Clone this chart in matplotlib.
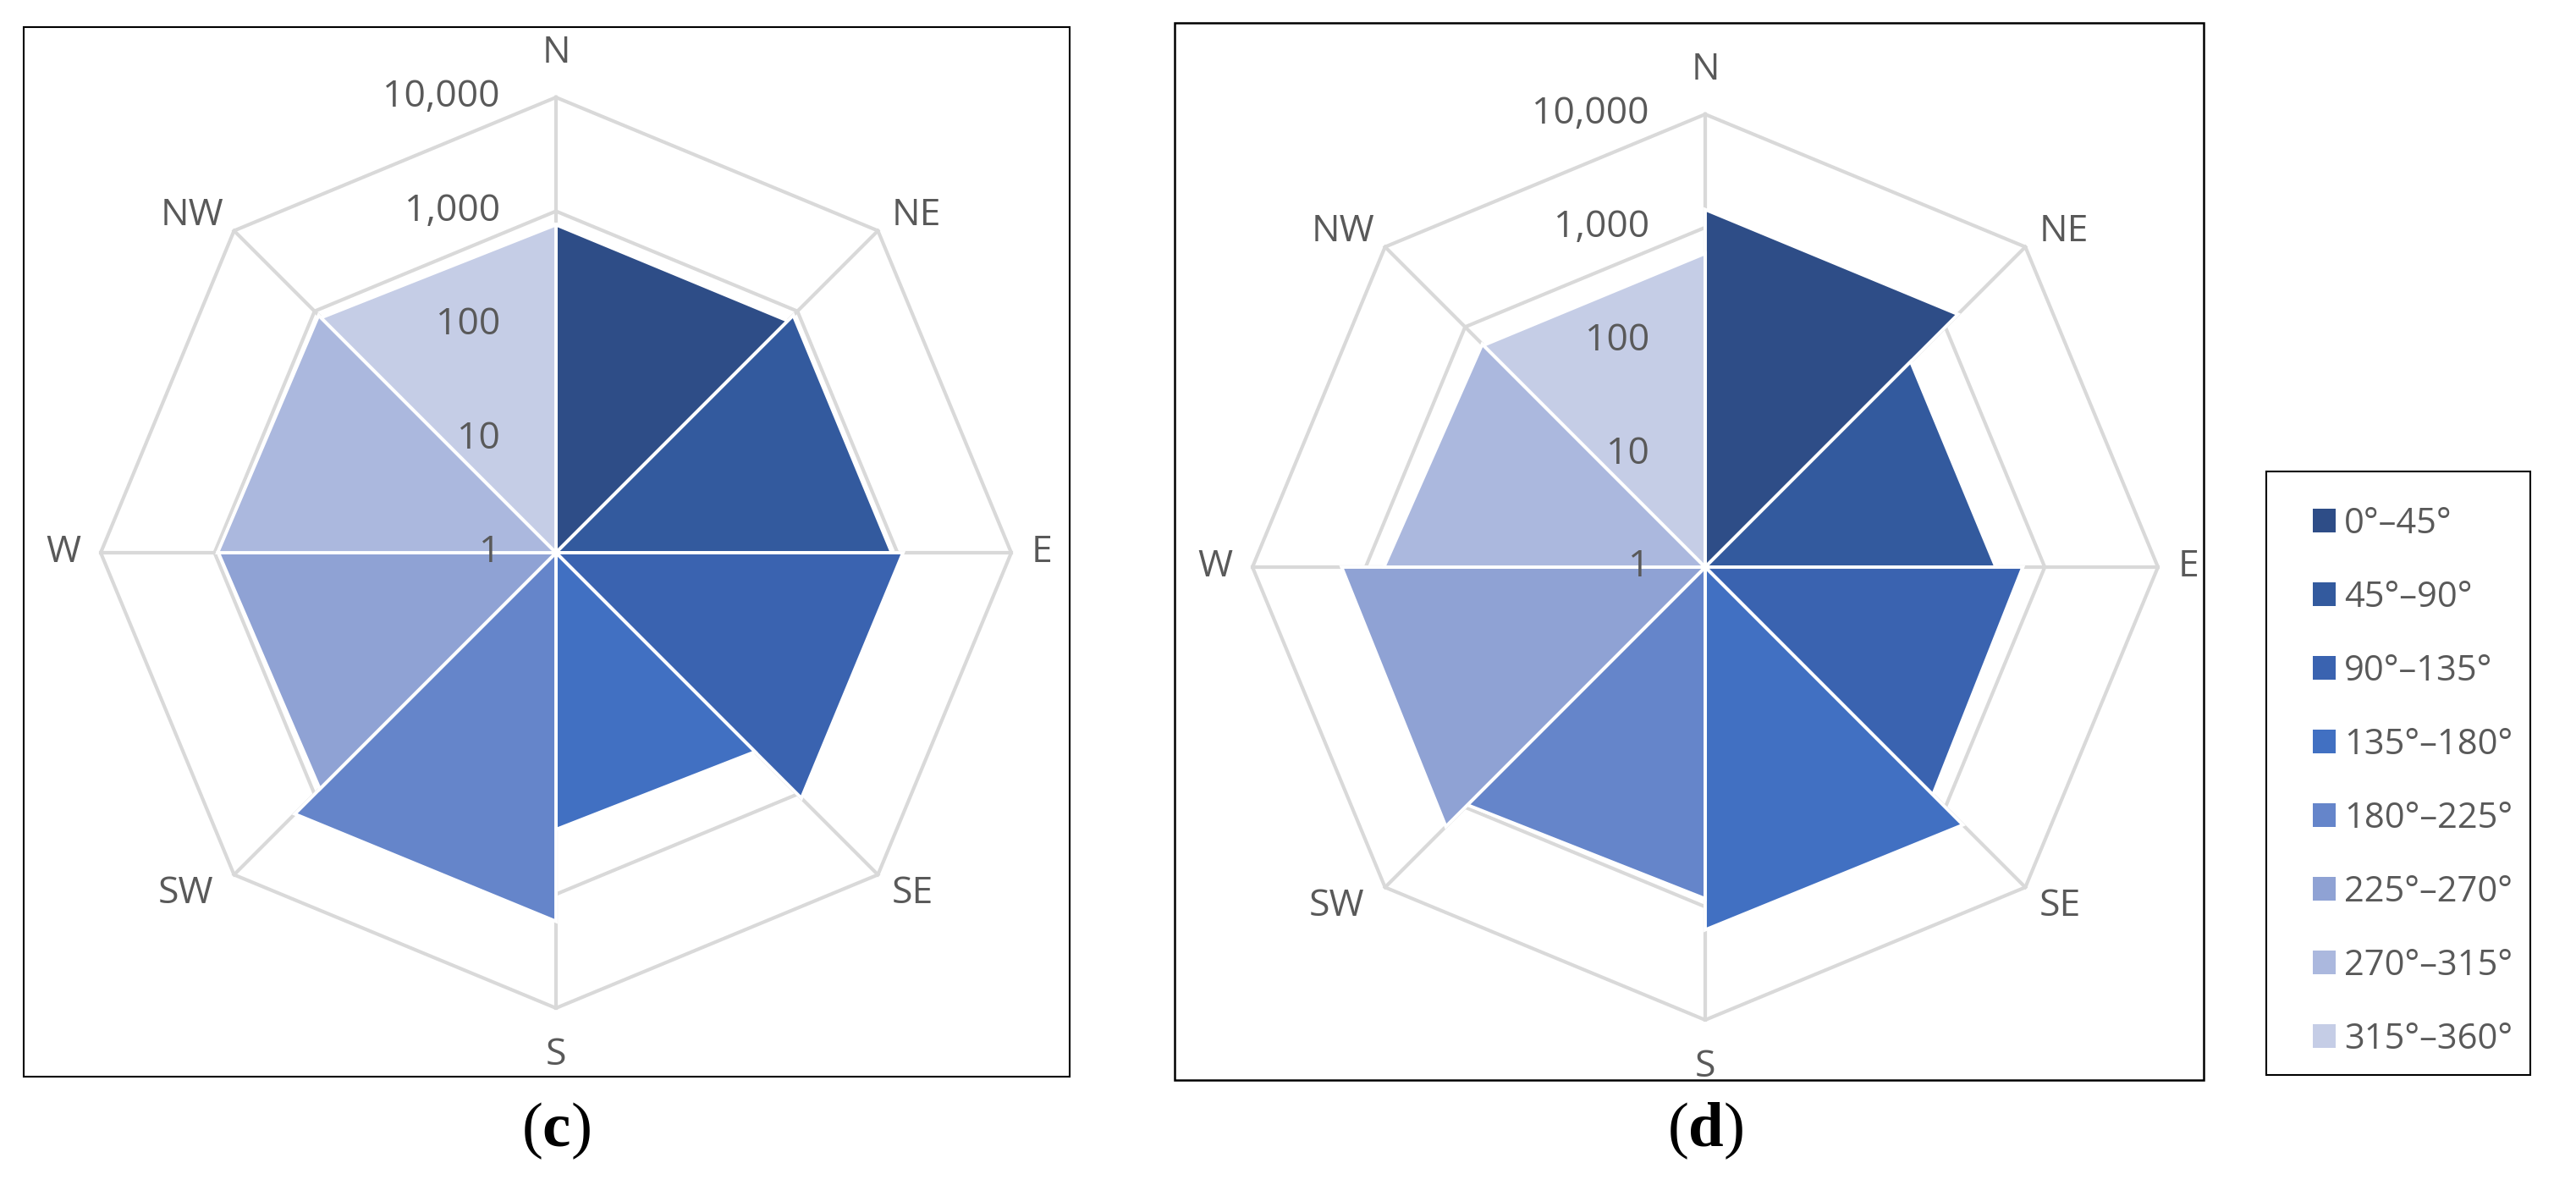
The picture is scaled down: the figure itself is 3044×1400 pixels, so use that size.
import matplotlib
matplotlib.use('Agg')
import matplotlib.pyplot as plt
import numpy as np
from matplotlib.patches import Rectangle, Patch

plt.rcParams['font.family'] = ['Open Sans', 'DejaVu Sans']
plt.rcParams['mathtext.fontset'] = 'custom'
plt.rcParams['mathtext.rm'] = 'Liberation Serif'
plt.rcParams['mathtext.bf'] = 'Liberation Serif:bold'

W, H = 3044, 1400

directions = ['N', 'NE', 'E', 'SE', 'S', 'SW', 'W', 'NW']
sectors = ['0°–45°', '45°–90°', '90°–135°', '135°–180°',
           '180°–225°', '225°–270°', '270°–315°', '315°–360°']
ticks = [1, 10, 100, 1000, 10000]
tick_labels = ['1', '10', '100', '1,000', '10,000']

# value at the start and at the end direction of each sector
c_start = [760, 890, 1120, 297, 1730, 860, 940, 830]
c_end = [760, 890, 1120, 270, 1760, 925, 890, 760]
d_start = [1440, 370, 640, 1660, 850, 1740, 690, 590]
d_end = [1440, 370, 700, 1600, 935, 1630, 610, 590]

colors = ['#2e4d87', '#335a9e', '#3a63b0', '#4170c2',
          '#6585ca', '#8fa2d4', '#abb8de', '#c5cde6']
grey = '#d9d9d9'
txt = '#595959'

# label offsets (pixels) and alignment for each direction
lab_pos = {
    'N': ((0, 30), 'center', 'bottom'),
    'NE': ((16, -4), 'left', 'bottom'),
    'E': ((24, 0), 'left', 'center'),
    'SE': ((16, 0), 'left', 'top'),
    'S': ((0, -34), 'center', 'top'),
    'SW': ((-24, 0), 'right', 'top'),
    'W': ((-24, 0), 'right', 'center'),
    'NW': ((-12, -4), 'right', 'bottom'),
}

fig = plt.figure(figsize=(W / 100, H / 100), dpi=100)


def frame(x0, y0, x1, y1, lw=1.5):
    fig.add_artist(Rectangle((x0 / W, 1 - y1 / H), (x1 - x0) / W, (y1 - y0) / H,
                             transform=fig.transFigure, fill=False,
                             ec='black', lw=lw))


def radar(cx, cy, R, starts, ends, caption):
    ax = fig.add_axes([(cx - R) / W, 1 - (cy + R) / H, 2 * R / W, 2 * R / H],
                      projection='polar')
    ax.set_theta_zero_location('N')
    ax.set_theta_direction(-1)
    ax.set_rscale('log')
    ax.set_ylim(1, 10000)
    ax.axis('off')

    theta = np.deg2rad(np.arange(0, 360, 45))
    closed = np.append(theta, theta[0])
    for t in ticks[1:]:
        ax.plot(closed, [t] * len(closed), color=grey, lw=3, zorder=1, clip_on=False)
    for th in theta:
        ax.plot([th, th], [1, 10000], color=grey, lw=3, zorder=1, clip_on=False)

    for i in range(8):
        th = [theta[i], theta[i], theta[(i + 1) % 8]]
        ax.fill(th, [1, starts[i], ends[i]], color=colors[i], ec='white',
                lw=2.8, zorder=2, clip_on=False)

    for t, lab in zip(ticks, tick_labels):
        ax.annotate(lab, xy=(0, t), xytext=(-66, 0), textcoords='offset pixels',
                    ha='right', va='center', fontsize=32, color=txt,
                    annotation_clip=False, zorder=3)

    for th, d in zip(theta, directions):
        off, ha, va = lab_pos[d]
        ax.annotate(d, xy=(th, 10000), xytext=off, textcoords='offset pixels',
                    ha=ha, va=va, fontsize=32, color=txt, annotation_clip=False)

    fig.text(cx / W, 1 - 1336 / H, caption, ha='center', va='center',
             fontsize=54, family='Liberation Serif')


frame(28, 32, 1264, 1272)
radar(657, 653, 538, c_start, c_end, r'($\mathbf{c}$)')

frame(1388, 27, 2604, 1276, lw=1.8)
radar(2015, 670, 535, d_start, d_end, r'($\mathbf{d}$)')

frame(2678, 557, 2990, 1270)
handles = [Patch(fc=c, lw=0, label=s) for c, s in zip(colors, sectors)]
fig.legend(handles=handles, loc='upper left', bbox_to_anchor=(2733 / W, 1 - 598 / H),
           frameon=False, fontsize=30, handlelength=0.65, handleheight=0.65,
           handletextpad=0.24, labelspacing=1.08, borderpad=0, borderaxespad=0,
           labelcolor=txt)

fig.savefig('out.png', dpi=100, facecolor='white')
